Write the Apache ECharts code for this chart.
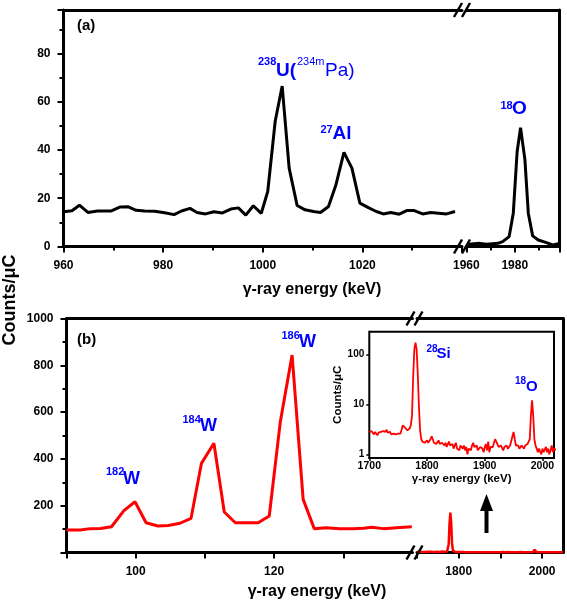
<!DOCTYPE html>
<html><head><meta charset="utf-8">
<script src="https://cdn.jsdelivr.net/npm/echarts@6/dist/echarts.min.js"></script>
<style>html,body{margin:0;padding:0;background:#fff}#c{width:567px;height:601px}</style>
</head><body><div id="c"></div>
<script>
// ---- Panel (a): black spectrum, low-energy segment
const aLeftE = [960.0, 961.7, 963.2, 964.9, 966.8, 969.5, 971.4, 972.9, 974.6, 976.3, 978.3, 980.3, 982.2, 983.7, 985.4, 986.8, 988.5, 990.2, 991.9, 993.6, 995.1, 996.6, 998.1, 999.7, 1001.0, 1002.5, 1003.9, 1005.3, 1006.9, 1008.5, 1010.2, 1011.6, 1013.2, 1014.7, 1016.3, 1017.9, 1019.5, 1021.2, 1022.8, 1024.2, 1025.7, 1027.4, 1028.9, 1030.4, 1032.1, 1033.7, 1035.3, 1036.9, 1038.6];
const aLeftC = [14.4, 14.8, 17.1, 14.1, 14.7, 14.7, 16.4, 16.5, 15.0, 14.7, 14.6, 14.0, 13.2, 14.7, 15.8, 14.1, 13.5, 14.4, 13.9, 15.5, 16.0, 13.0, 16.9, 13.7, 22.8, 51.9, 66.5, 32.5, 17.0, 15.2, 14.5, 14.1, 16.6, 25.6, 39.0, 32.5, 18.0, 16.1, 14.5, 13.5, 14.1, 13.4, 14.9, 14.9, 13.5, 14.1, 13.8, 13.5, 14.5];
// ---- Panel (a): high-energy segment
const aRightE = [1960.8, 1965.6, 1968.4, 1973.1, 1975.0, 1977.7, 1979.4, 1981.0, 1982.4, 1984.2, 1985.6, 1987.4, 1989.7, 1993.1, 1995.9, 1998.4];
const aRightC = [0.9, 1.3, 0.9, 1.3, 2.0, 4.1, 13.8, 39.4, 49.2, 36.0, 13.8, 4.4, 2.7, 1.6, 0.6, 1.3];
// ---- Panel (b): red spectrum, low-energy segment
const bLeftE = [90.0, 92.0, 93.4, 94.9, 96.5, 98.3, 99.9, 101.5, 103.2, 104.7, 106.4, 108.0, 109.5, 111.3, 112.8, 114.4, 116.1, 117.7, 119.3, 120.9, 122.6, 124.2, 125.8, 127.5, 129.5, 131.4, 132.9, 134.1, 135.8, 137.7, 139.9];
const bLeftC = [96, 96, 102, 103, 110, 179, 217, 127, 113, 115, 125, 146, 381, 467, 173, 127, 127, 127, 156, 559, 844, 227, 102, 106, 102, 102, 104, 108, 102, 106, 110];
// ---- Panel (b): high-energy spectrum (also the inset)
const specE = [
 1700,1702,1704,1706,1708,1710,1712,1714,1716,1718,1720,1722,1724,1726,1728,1730,1732,1734,1736,1738,
 1740,1742,1744,1746,1748,1750,1752,1754,1756,1758,1760,1762,1764,1766,1768,1770,1772,1774,1776,1778,
 1780,1782,1784,1786,1788,1790,1792,1794,1796,1798,1800,1802,1804,1806,1808,1810,1812,1814,1816,1818,
 1820,1822,1824,1826,1828,1830,1832,1834,1836,1838,1840,1842,1844,1846,1848,1850,1852,1854,1856,1858,
 1860,1862,1864,1866,1868,1870,1872,1874,1876,1878,1880,1882,1884,1886,1888,1890,1892,1894,1896,1898,
 1900,1902,1904,1906,1908,1910,1912,1914,1916,1918,1920,1922,1924,1926,1928,1930,1932,1934,1936,1938,
 1940,1942,1944,1946,1948,1950,1952,1954,1956,1958,1960,1962,1964,1966,1968,1970,1972,1974,1976,1978,
 1980,1982,1984,1986,1988,1990,1992,1994,1996,1998,2000,2002,2004,2006,2008,2010,2012,2014,2016,2018,
 2020,2025,2030,2035,2040,2045,2050];
const specC = [
 2.8,2.6,2.9,2.7,2.5,2.8,2.6,2.4,2.7,2.5,2.8,2.6,2.9,3.0,2.8,3.1,2.7,2.6,2.8,2.5,
 2.7,2.6,2.8,2.5,2.7,2.6,2.8,2.6,3.1,3.8,3.9,3.4,3.6,3.0,3.2,3.3,3.8,6,35,125,
 170,125,40,9,3.0,2.0,1.8,1.9,1.7,1.8,1.9,1.7,1.8,2.0,2.3,2.0,1.7,1.8,1.6,1.7,
 1.9,1.6,1.5,1.7,1.6,1.5,1.7,1.4,1.6,1.8,1.5,1.4,1.6,1.3,1.5,1.7,1.3,1.4,1.2,1.5,
 1.4,1.3,1.5,1.2,1.4,1.0,1.3,1.4,1.2,1.5,1.7,1.4,1.3,1.5,1.2,1.1,1.4,1.5,1.3,1.1,
 1.4,1.6,1.2,1.8,1.1,1.4,1.5,1.4,1.7,2.0,2.1,1.6,1.4,1.3,1.5,1.4,1.2,1.4,1.3,1.5,
 1.3,1.4,1.5,1.6,2.3,2.8,2.0,1.5,1.4,1.5,1.3,1.4,1.5,1.4,1.3,1.5,1.4,1.6,1.5,2.0,
 6.0,12.0,6.0,2.0,1.5,1.3,1.1,1.3,1.2,1.0,1.3,1.1,1.2,1.4,1.1,1.3,1.0,1.2,1.5,1.1,
 1.3,1.2,1.1,1.3,1.2,1.1,1.2];
// ---- tick label lists
const aLeftTicks = [960, 980, 1000, 1020];
const aRightTicks = [1960, 1980];
const bLeftTicks = [100, 120];
const bRightTicks = [1800, 2000];
const insetTicks = [1700, 1800, 1900, 2000];

const F = '"Liberation Sans", Arial, Helvetica, sans-serif';
const BLUE = '#0000ff';
const zip = (a, b) => a.map((v, i) => [v, b[i]]);
const lab = (s, extra) => Object.assign({fontFamily: F, fontWeight: 'bold', fontSize: s, color: '#000'}, extra || {});
const line3 = {color: '#000', width: 3};
const tick = {show: true, length: 6, lineStyle: {color: '#000', width: 2}};
const minor = {show: true, splitNumber: 2, length: 4, lineStyle: {color: '#000', width: 2}};
const plain = v => String(v);

function mainX(g, min, max, interval, ticks, useMinor) {
  return {type: 'value', gridIndex: g, position: 'bottom', min, max, interval,
    axisLine: {show: true, onZero: false, lineStyle: line3}, axisTick: tick,
    minorTick: useMinor ? minor : {show: false},
    axisLabel: lab(12, {margin: 13, showMaxLabel: false, formatter: v => ticks.includes(v) ? String(v) : ''}),
    splitLine: {show: false}, minorSplitLine: {show: false}};
}
function frameX(g, min, max) {
  return {type: 'value', gridIndex: g, position: 'top', min, max,
    axisLine: {show: true, onZero: false, lineStyle: line3}, axisTick: {show: false},
    axisLabel: {show: false}, splitLine: {show: false}};
}
function frameY(g, min, max) {
  return {type: 'value', gridIndex: g, position: 'right', min, max,
    axisLine: {show: true, onZero: false, lineStyle: line3}, axisTick: {show: false},
    axisLabel: {show: false}, splitLine: {show: false}};
}
function mainY(g, min, max, interval, showMin, showMax) {
  return {type: 'value', gridIndex: g, position: 'left', min, max, interval,
    axisLine: {show: true, onZero: false, lineStyle: line3}, axisTick: tick, minorTick: minor,
    axisLabel: lab(12, {margin: 13, showMaxLabel: showMax, showMinLabel: showMin, formatter: plain}),
    splitLine: {show: false}, minorSplitLine: {show: false}};
}

function T(x, y, text, size, weight, color, align) {
  return {type: 'text', x, y, z: 100,
    style: {text, fontFamily: F, fontSize: size, fontWeight: weight, fill: color,
      align: align || 'left', verticalAlign: 'middle', textAlign: align || 'left', textVerticalAlign: 'middle'}};
}
function slash(cx, cy) {
  return {type: 'line', z: 100, shape: {x1: cx - 4, y1: cy + 7, x2: cx + 4, y2: cy - 7},
    style: {stroke: '#000', lineWidth: 2.5}};
}

const chart = echarts.init(document.getElementById('c'), null, {renderer: 'canvas'});
chart.setOption({
  animation: false,
  backgroundColor: '#fff',
  grid: [
    {left: 63.5, top: 10, width: 398.5, height: 236.5},
    {left: 466.3, top: 10, width: 93, height: 236.5},
    {left: 66.5, top: 318.5, width: 346, height: 234},
    {left: 417, top: 318.5, width: 146, height: 234},
    {left: 369.3, top: 331.7, width: 184.7, height: 126.3, show: true, borderColor: '#000', borderWidth: 2, backgroundColor: '#fff', z: 5}
  ],
  xAxis: [
    mainX(0, 960, 1040, 20, aLeftTicks, true),
    frameX(0, 960, 1040),
    mainX(1, 1960, 1998.4, 20, aRightTicks, true),
    frameX(1, 1960, 1998.4),
    mainX(2, 90, 140, 10, bLeftTicks, false),
    frameX(2, 90, 140),
    mainX(3, 1700, 2050, 100, bRightTicks, false),
    frameX(3, 1700, 2050),
    {type: 'value', gridIndex: 4, position: 'bottom', min: 1700, max: 2020, interval: 100,
     axisLine: {show: true, onZero: false, lineStyle: {color: '#000', width: 2}},
     axisTick: {show: true, length: 3, lineStyle: {color: '#000', width: 1.5}},
     axisLabel: lab(10.5, {margin: 3, showMaxLabel: false, formatter: v => insetTicks.includes(v) ? String(v) : ''}),
     splitLine: {show: false},
     name: 'γ-ray energy (keV)', nameLocation: 'middle', nameGap: 14, nameTextStyle: lab(11.5)}
  ],
  yAxis: [
    mainY(0, 0, 98, 20, true, false),
    frameY(1, 0, 98),
    mainY(2, 0, 1000, 200, false, true),
    frameY(3, 0, 1000),
    {type: 'log', logBase: 10, gridIndex: 4, position: 'left', min: 0.843, max: 283,
     axisLine: {show: true, onZero: false, lineStyle: {color: '#000', width: 2}},
     axisTick: {show: true, length: 3, lineStyle: {color: '#000', width: 1.5}},
     axisLabel: lab(10, {margin: 5, showMaxLabel: false, showMinLabel: false, formatter: plain}),
     splitLine: {show: false},
     name: 'Counts/μC', nameLocation: 'middle', nameGap: 12, nameRotate: 90, nameTextStyle: lab(11.5)}
  ],
  series: [
    {type: 'line', xAxisIndex: 0, yAxisIndex: 0, data: zip(aLeftE, aLeftC), symbol: 'none', lineStyle: {color: '#000', width: 3}},
    {type: 'line', xAxisIndex: 2, yAxisIndex: 1, data: zip(aRightE, aRightC), symbol: 'none', lineStyle: {color: '#000', width: 3}},
    {type: 'line', xAxisIndex: 4, yAxisIndex: 2, data: zip(bLeftE, bLeftC), symbol: 'none', lineStyle: {color: '#ff0000', width: 3}},
    {type: 'line', xAxisIndex: 6, yAxisIndex: 3, data: zip(specE, specC), symbol: 'none', lineStyle: {color: '#ff0000', width: 2.5}},
    {type: 'line', xAxisIndex: 8, yAxisIndex: 4, data: zip(specE, specC), symbol: 'none', z: 10, lineStyle: {color: '#ff0000', width: 1.8}}
  ],
  graphic: [
    T(77, 26, '(a)', 15, 'bold', '#000'),
    T(77, 340, '(b)', 15, 'bold', '#000'),
    T(312, 290, 'γ-ray energy (keV)', 16, 'bold', '#000', 'center'),
    T(317, 592, 'γ-ray energy (keV)', 16, 'bold', '#000', 'center'),
    {type: 'text', x: 10, y: 300, rotation: Math.PI / 2, z: 100,
     style: {text: 'Counts/μC', fontFamily: F, fontSize: 18, fontWeight: 'bold', fill: '#000',
       align: 'center', verticalAlign: 'middle', textAlign: 'center', textVerticalAlign: 'middle'}},
    // panel (a) labels
    T(258, 62, '238', 11, 'bold', BLUE),
    T(276, 70.5, 'U(', 19, 'bold', BLUE),
    T(297, 62, '234m', 11, 'normal', BLUE),
    T(325, 70.5, 'Pa)', 19, 'normal', BLUE),
    T(320.5, 130, '27', 11, 'bold', BLUE),
    T(332.5, 134, 'Al', 19, 'bold', BLUE),
    T(500.5, 106, '18', 11, 'bold', BLUE),
    T(512, 109, 'O', 19, 'bold', BLUE),
    // panel (b) labels
    T(106, 471.5, '182', 11, 'bold', BLUE),
    T(123, 479, 'W', 18, 'bold', BLUE),
    T(182.5, 419.5, '184', 11, 'bold', BLUE),
    T(200, 426.3, 'W', 18, 'bold', BLUE),
    T(281.5, 336, '186', 11, 'bold', BLUE),
    T(299, 341.7, 'W', 18, 'bold', BLUE),
    // inset labels
    T(426.5, 349, '28', 10, 'bold', BLUE),
    T(436.5, 354, 'Si', 15, 'bold', BLUE),
    T(515, 381.5, '18', 10, 'bold', BLUE),
    T(526, 386.7, 'O', 15, 'bold', BLUE),
    // arrow
    {type: 'polygon', z: 100, shape: {points: [[486.5, 494], [480, 511], [484.5, 511], [484.5, 533], [488.5, 533], [488.5, 511], [493, 511]]},
     style: {fill: '#000'}},
    // axis breaks
    slash(458, 10), slash(466, 10), slash(458, 246.5), slash(466, 246.5),
    slash(410.5, 318.5), slash(418.5, 318.5), slash(410.5, 552.5), slash(418.5, 552.5)
  ]
});
</script></body></html>
